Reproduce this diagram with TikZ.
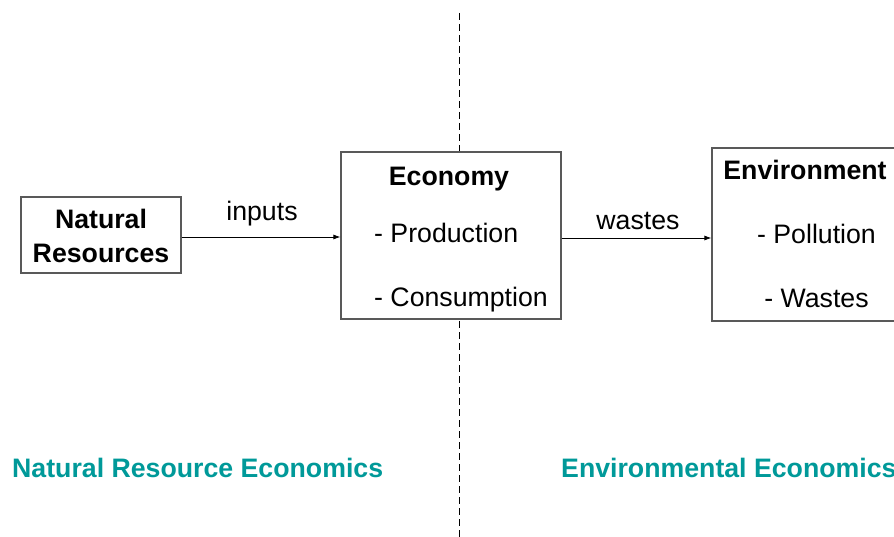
\documentclass[tikz,border=0pt]{standalone}
\usepackage{fontspec}
\setmainfont{Liberation Sans}
\usetikzlibrary{arrows.meta}
\definecolor{econteal}{HTML}{009999}
\begin{document}
\begin{tikzpicture}[x=1pt,y=-1pt,
  box/.style={draw=black!65, line width=1.2pt, fill=white, inner sep=0pt},
  txt/.style={anchor=base, inner sep=0pt, font=\fontsize{26.7}{32}\selectfont},
  btxt/.style={anchor=base, inner sep=0pt, font=\fontsize{26.7}{32}\selectfont\bfseries},
  arr/.style={-{Latex[length=7pt,width=5pt]}, line width=0.8pt},
  divider/.style={dash pattern=on 7pt off 4pt, line width=0.9pt}]
\useasboundingbox (0,0) rectangle (894,537);
\coordinate (dtop) at (459,13);
\coordinate (dbot) at (459,537);
\draw[divider] (dtop) -- (dbot);
\node[box, minimum width=160pt, minimum height=76pt] (nr) at (101,235) {};
\node[box, minimum width=220pt, minimum height=167pt] (eco) at (451,235.5) {};
\node[box, minimum width=186pt, minimum height=173pt] (env) at (805,234.5) {};
\node[btxt] (nrt1) at (101,229) {Natural};
\node[btxt] (nrt2) at (101,263) {Resources};
\node[txt] (inp) at (262,221) {inputs};
\node[btxt] (ecot) at (449,186) {Economy};
\node[txt, anchor=base west] (eco1) at (374,243) {- Production};
\node[txt, anchor=base west] (eco2) at (374,307) {- Consumption};
\node[txt] (was) at (638,230) {wastes};
\node[btxt] (envt) at (805,180) {Environment};
\node[txt] (env1) at (816.5,244) {- Pollution};
\node[txt] (env2) at (816.5,308) {- Wastes};
\node[btxt, text=econteal, anchor=base west] (nre) at (12,477) {Natural Resource Economics};
\node[btxt, text=econteal, anchor=base west] (ee) at (561,477) {Environmental Economics};
\draw[arr] ([yshift=-2pt]nr.east) -- ([yshift=-2pt]nr.east -| eco.west);
\draw[arr] ([yshift=-2.5pt]eco.east) -- ([yshift=-2.5pt]eco.east -| env.west);
\end{tikzpicture}
\end{document}
